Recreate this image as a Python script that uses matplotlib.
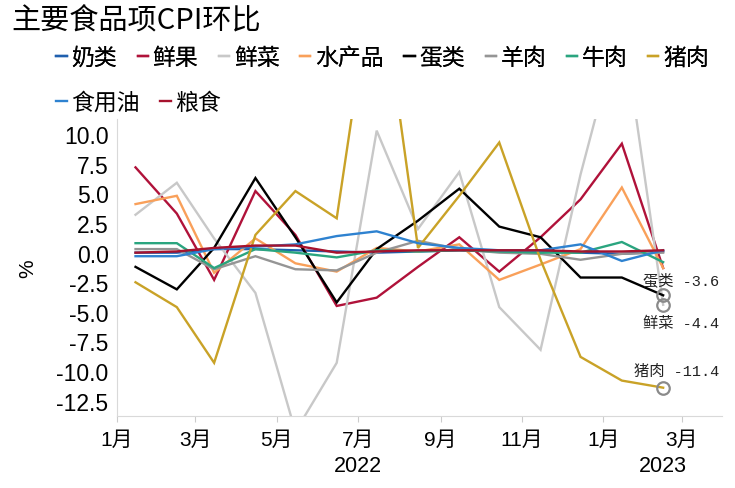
import matplotlib
matplotlib.use("Agg")
import matplotlib.pyplot as plt
import matplotlib.dates as mdates
import matplotlib.transforms as mtransforms
from matplotlib.ticker import FuncFormatter, MultipleLocator
import pandas as pd

plt.rcParams["font.family"] = ["Liberation Sans", "Noto Sans CJK SC", "DejaVu Sans"]
CJK = ["Noto Sans CJK SC", "DejaVu Sans"]
MONO = ["Liberation Mono", "Noto Sans CJK SC"]

# monthly CPI m/m change (%), Jan 2022 .. Feb 2023
months = ["2022-01", "2022-02", "2022-03", "2022-04", "2022-05", "2022-06", "2022-07",
          "2022-08", "2022-09", "2022-10", "2022-11", "2022-12", "2023-01", "2023-02"]

dairy = [0.0, 0.0, 0.3, 0.3, 0.2, 0.1, 0.0, 0.1, 0.2, 0.1, 0.1, 0.0, -0.1, 0.1]
fruit = [7.2, 3.3, -2.3, 5.2, 1.5, -4.5, -3.8, -1.2, 1.3, -1.6, 1.3, 4.5, 9.2, -1.3]
veg = [3.2, 5.9, 1.2, -3.4, -15.1, -9.3, 10.3, 2.0, 6.8, -4.6, -8.2, 6.6, 19.8, -4.4]
aquatic = [4.1, 4.8, -1.7, 1.2, -0.9, -1.6, 0.4, 0.1, 0.7, -2.3, -1.0, 0.3, 5.5, -1.3]
egg = [-1.2, -3.1, 0.4, 6.3, 1.3, -4.2, 0.3, 2.7, 5.4, 2.2, 1.3, -2.1, -2.1, -3.6]
mutton = [0.3, 0.3, -1.4, -0.3, -1.4, -1.5, 0.0, 1.0, 0.3, 0.0, -0.1, -0.6, -0.1, 0.0]
beef = [0.8, 0.8, -1.3, 0.3, 0.0, -0.4, 0.2, 0.1, 0.2, 0.1, 0.0, 0.0, 0.9, -0.8]
pork = [-2.5, -4.6, -9.3, 1.5, 5.2, 2.9, 25.6, 0.4, 4.8, 9.3, -0.6, -8.8, -10.8, -11.4]
oil = [-0.3, -0.3, 0.3, 0.5, 0.7, 1.4, 1.8, 0.8, 0.4, 0.2, 0.2, 0.7, -0.7, 0.2]
grain = [0.0, 0.1, 0.4, 0.6, 0.6, 0.0, 0.1, 0.2, 0.2, 0.2, 0.2, 0.1, 0.1, 0.2]

names = ["奶类", "鲜果", "鲜菜", "水产品", "蛋类", "羊肉", "牛肉", "猪肉", "食用油", "粮食"]
series = [dairy, fruit, veg, aquatic, egg, mutton, beef, pork, oil, grain]
colors = ["#1F5FAE", "#B0123A", "#C8C8C8", "#F9A05A", "#000000",
          "#959595", "#2AA57F", "#C9A227", "#2E82D0", "#A6122D"]
marked = ["蛋类", "鲜菜", "猪肉"]
label_offsets = {"蛋类": (13, 11.5), "鲜菜": (13, -13), "猪肉": (10, 12)}

# points sit mid-month
dates = pd.to_datetime(months) + pd.Timedelta(days=14)

fig = plt.figure(figsize=(7.35, 4.89), dpi=100)
ax = fig.add_axes([0.159, 0.147, 0.823, 0.608])

handles = {}
for name, vals, c in zip(names, series, colors):
    (ln,) = ax.plot(dates, vals, color=c, lw=1.7, solid_joinstyle="miter")
    handles[name] = ln

for name in marked:
    vals = series[names.index(name)]
    ax.plot(dates[-1], vals[-1], "o", ms=9, mfc="none", mec="#8a8a8a", mew=1.6, zorder=6)
    dx, dy = label_offsets[name]
    ax.annotate(f"{name} {vals[-1]:.1f}", (dates[-1], vals[-1]), xytext=(dx, dy),
                textcoords="offset points", ha="center", va="center",
                fontsize=11, family=MONO, color="#222")

ax.set_xlim(pd.Timestamp("2022-01-01"), pd.Timestamp("2023-03-31"))
ax.set_ylim(-13.8, 11.3)
ax.yaxis.set_major_locator(MultipleLocator(2.5))
ax.yaxis.set_major_formatter(FuncFormatter(lambda v, p: f"{v:.1f}"))
ax.xaxis.set_major_locator(mdates.MonthLocator(bymonth=[1, 3, 5, 7, 9, 11]))
ax.xaxis.set_major_formatter(FuncFormatter(lambda v, p: f"{mdates.num2date(v).month}月"))
ax.tick_params(axis="y", length=0, labelsize=16.5, pad=6)
ax.tick_params(axis="x", length=4, color="#cccccc", labelsize=15, pad=6)
for side in ("top", "right"):
    ax.spines[side].set_visible(False)
for side in ("left", "bottom"):
    ax.spines[side].set_color("#d9d9d9")
ax.set_ylabel("%", fontsize=15, labelpad=14)

trans = mtransforms.blended_transform_factory(ax.transData, ax.transAxes)
ax.text(pd.Timestamp("2022-07-01"), -0.165, "2022", transform=trans,
        ha="center", va="center", fontsize=15.5)
ax.text(pd.Timestamp("2023-02-15"), -0.165, "2023", transform=trans,
        ha="center", va="center", fontsize=15.5)

fig.text(0.016, 0.957, "主要食品项CPI环比", fontsize=21, family=CJK, va="center")

row1 = names[:8]
row2 = names[8:]
leg_kw = dict(frameon=False, handlelength=0.45, handletextpad=0.2, borderpad=0,
              columnspacing=0.9, prop={"family": CJK, "size": 16.5}, loc="center left")
leg1 = fig.legend([handles[n] for n in row1], row1, ncol=8,
                  bbox_to_anchor=(0.061, 0.881), **leg_kw)
fig.add_artist(leg1)
fig.legend([handles[n] for n in row2], row2, ncol=2,
           bbox_to_anchor=(0.061, 0.789), **leg_kw)

fig.savefig("out.png", dpi=100, facecolor="white")
